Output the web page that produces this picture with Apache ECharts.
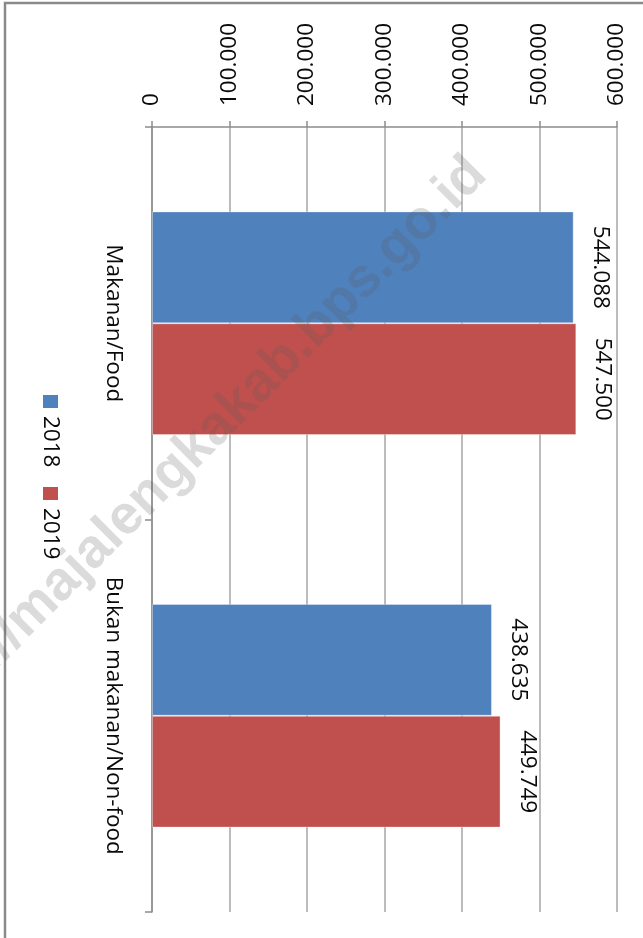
<!DOCTYPE html>
<html>
<head>
<meta charset="utf-8">
<script src="https://cdn.jsdelivr.net/npm/echarts@6/dist/echarts.min.js"></script>
<style>
html,body{margin:0;padding:0;background:#fff;}
#chart{width:643px;height:938px;}
</style>
</head>
<body>
<div id="chart"></div>
<script>
const categories = ['Makanan/Food', 'Bukan makanan/Non-food'];
const seriesNames = ['2018', '2019'];
const values2018 = [544088, 438635];
const values2019 = [547500, 449749];
const seriesColors = ['#4F81BD', '#C0504D'];
const axisMax = 600000;
const axisStep = 100000;
const watermarkText = 'http://majalengkakab.bps.go.id';

const FONT = '"Open Sans", "Liberation Sans", sans-serif';
const FS = 22.5;
function fmt(v) {
  return String(v).replace(/\B(?=(\d{3})+(?!\d))/g, '.');
}

const chart = echarts.init(document.getElementById('chart'), null, {renderer: 'canvas'});

const seriesData = [values2018, values2019];
const series = seriesNames.map((name, i) => ({
  name: name,
  type: 'bar',
  data: seriesData[i],
  barGap: '0%',
  barCategoryGap: '43%',
  itemStyle: {color: seriesColors[i], borderColor: 'rgba(255,255,255,0.35)', borderWidth: 1},
  label: {
    show: true,
    position: 'right',
    distance: 15,
    rotate: -90,
    align: 'center',
    verticalAlign: 'bottom',
    fontFamily: FONT,
    fontSize: FS,
    color: '#0a0a0a',
    formatter: p => fmt(p.value)
  },
  z: 2
}));

// legend drawn as rotated graphic items, built from series names/colors
const legendGraphics = [];
const legendStartY = 395;
const itemSpan = 92;
seriesNames.forEach((name, i) => {
  const y0 = legendStartY + i * itemSpan;
  legendGraphics.push({
    type: 'rect',
    shape: {x: 43, y: y0, width: 15, height: 13},
    style: {fill: seriesColors[i]}
  });
  legendGraphics.push({
    type: 'text',
    x: 50, y: y0 + 21,
    rotation: -Math.PI / 2,
    style: {text: name, fontFamily: FONT, fontSize: FS, fill: '#0a0a0a', align: 'left', verticalAlign: 'middle'}
  });
});

chart.setOption({
  animation: false,
  backgroundColor: '#fff',
  grid: {left: 152, top: 127, right: 26, bottom: 26},
  xAxis: {
    type: 'value',
    position: 'top',
    min: 0,
    max: axisMax,
    interval: axisStep,
    axisLine: {show: true, lineStyle: {color: '#8c8c8c', width: 1.5}},
    axisTick: {show: true, length: 6, lineStyle: {color: '#8c8c8c', width: 1.5}},
    splitLine: {show: true, lineStyle: {color: '#a6a6a6', width: 1.5}},
    axisLabel: {
      rotate: -90,
      margin: 21,
      fontFamily: FONT,
      fontSize: FS,
      color: '#0a0a0a',
      formatter: v => fmt(v)
    }
  },
  yAxis: {
    type: 'category',
    data: categories,
    inverse: true,
    axisLine: {show: true, lineStyle: {color: '#8c8c8c', width: 1.5}},
    axisTick: {show: true, length: 7, lineStyle: {color: '#8c8c8c', width: 1.5}},
    splitLine: {show: false},
    axisLabel: {
      rotate: -90,
      margin: 27,
      fontFamily: FONT,
      fontSize: FS,
      color: '#0a0a0a'
    }
  },
  series: series,
  graphic: [
    {
      type: 'rect',
      shape: {x: 5, y: 3, width: 800, height: 1100},
      style: {fill: null, stroke: '#8a8a8a', lineWidth: 2.5},
      z: 100
    },
    ...legendGraphics,
    {
      type: 'text',
      x: 478, y: 166,
      rotation: Math.PI / 4,
      style: {
        text: watermarkText,
        fontFamily: '"Liberation Sans", Arial, sans-serif',
        fontWeight: 'bold',
        fontSize: 55,
        fill: 'rgba(90,90,90,0.22)',
        align: 'right',
        verticalAlign: 'middle'
      },
      z: 100
    }
  ]
});
</script>
</body>
</html>
